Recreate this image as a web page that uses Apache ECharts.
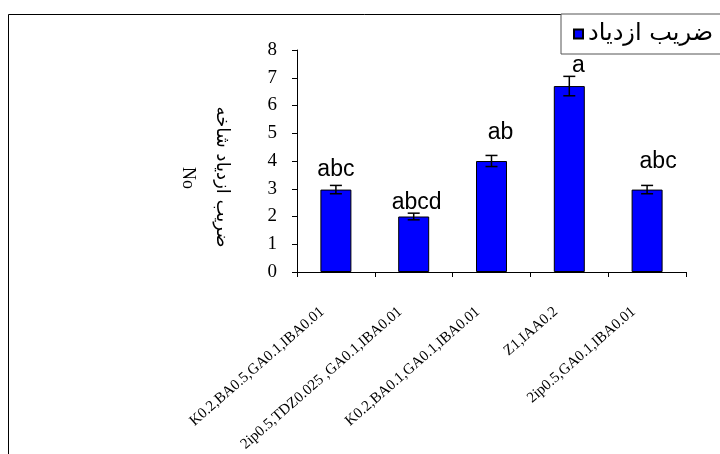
<!DOCTYPE html>
<html>
<head>
<meta charset="utf-8">
<script src="https://cdn.jsdelivr.net/npm/echarts@6/dist/echarts.min.js"></script>
<style>html,body{margin:0;padding:0;background:#fff;}#c{width:720px;height:454px;}</style>
</head>
<body>
<div id="c"></div>
<script>
const categories = ["K0.2,BA0.5,GA0.1,IBA0.01", "2ip0.5,TDZ0.025 ,GA0.1,IBA0.01", "K0.2,BA0.1,GA0.1,IBA0.01", "Z1,IAA0.2", "2ip0.5,GA0.1,IBA0.01"];
const values = [2.97, 2.0, 4.0, 6.7, 2.97];
const errors = [0.15, 0.12, 0.2, 0.35, 0.15];
const letters = ["abc", "abcd", "ab", "a", "abc"];
const seriesName = "ضریب ازدیاد";
const yAxisTitle = "ضریب ازدیاد شاخه";
const yAxisUnit = "No";

const labelOffsets = [[0, -8], [3, -2], [9, -17], [9, -9], [11, -16]];

const chart = echarts.init(document.getElementById('c'), null, {renderer: 'canvas'});
chart.setOption({
  animation: false,
  backgroundColor: '#fff',
  graphic: [{
    type: 'rect', silent: true, z: -1,
    shape: {x: 8.5, y: 14.5, width: 800, height: 500},
    style: {fill: 'none', stroke: '#000', lineWidth: 1}
  }, {
    type: 'text', silent: true,
    x: 222, y: 177, rotation: -Math.PI / 2,
    style: {text: yAxisTitle, fontFamily: 'DejaVu Sans', fontSize: 18, fill: '#000', align: 'center', verticalAlign: 'middle'}
  }, {
    type: 'text', silent: true,
    x: 188, y: 178, rotation: -Math.PI / 2,
    style: {text: yAxisUnit, fontFamily: 'Liberation Serif', fontSize: 18, fill: '#000', align: 'center', verticalAlign: 'middle'}
  }],
  legend: {
    data: [seriesName],
    left: 561, top: 14,
    padding: [8, 40, 8, 12],
    borderColor: '#555', borderWidth: 1,
    backgroundColor: '#fff',
    itemWidth: 9, itemHeight: 9, itemGap: 6,
    icon: 'rect',
    textStyle: {fontFamily: 'DejaVu Sans', fontSize: 24, color: '#000'}
  },
  grid: {left: 297, right: 34, top: 50, bottom: 182, containLabel: false, outerBoundsMode: 'none'},
  xAxis: {
    type: 'category', data: categories,
    axisLine: {lineStyle: {color: '#000', width: 1}},
    axisTick: {show: true, alignWithLabel: false, length: 5, lineStyle: {color: '#000'}},
    axisLabel: {rotate: 41, interval: 0, margin: 26, padding: [0, 18, 0, 0], fontFamily: 'Liberation Serif', fontSize: 15, color: '#000'}
  },
  yAxis: {
    type: 'value', min: 0, max: 8, interval: 1,
    axisLine: {show: true, lineStyle: {color: '#000', width: 1}},
    axisTick: {show: true, length: 5, lineStyle: {color: '#000'}},
    splitLine: {show: false},
    axisLabel: {margin: 20, fontFamily: 'Liberation Serif', fontSize: 19, color: '#000'}
  },
  series: [{
    name: seriesName, type: 'bar',
    barWidth: 31,
    data: values.map((v, i) => ({
      value: v,
      label: {offset: labelOffsets[i]}
    })),
    itemStyle: {color: '#0000FF', borderColor: '#000', borderWidth: 1},
    label: {
      show: true, position: 'top', distance: 0,
      formatter: p => letters[p.dataIndex],
      fontFamily: 'Liberation Sans', fontSize: 23, color: '#000'
    },
    z: 2
  }, {
    type: 'custom', name: 'err', z: 3,
    data: values.map((v, i) => [i, v - errors[i], v + errors[i]]),
    renderItem: (params, api) => {
      const x = api.value(0);
      const lo = api.coord([x, api.value(1)]);
      const hi = api.coord([x, api.value(2)]);
      const w = 6;
      const st = {stroke: '#000', lineWidth: 1.5};
      return {type: 'group', children: [
        {type: 'line', shape: {x1: lo[0], y1: lo[1], x2: hi[0], y2: hi[1]}, style: st},
        {type: 'line', shape: {x1: lo[0] - w, y1: lo[1], x2: lo[0] + w, y2: lo[1]}, style: st},
        {type: 'line', shape: {x1: hi[0] - w, y1: hi[1], x2: hi[0] + w, y2: hi[1]}, style: st}
      ]};
    }
  }]
});
</script>
</body>
</html>
